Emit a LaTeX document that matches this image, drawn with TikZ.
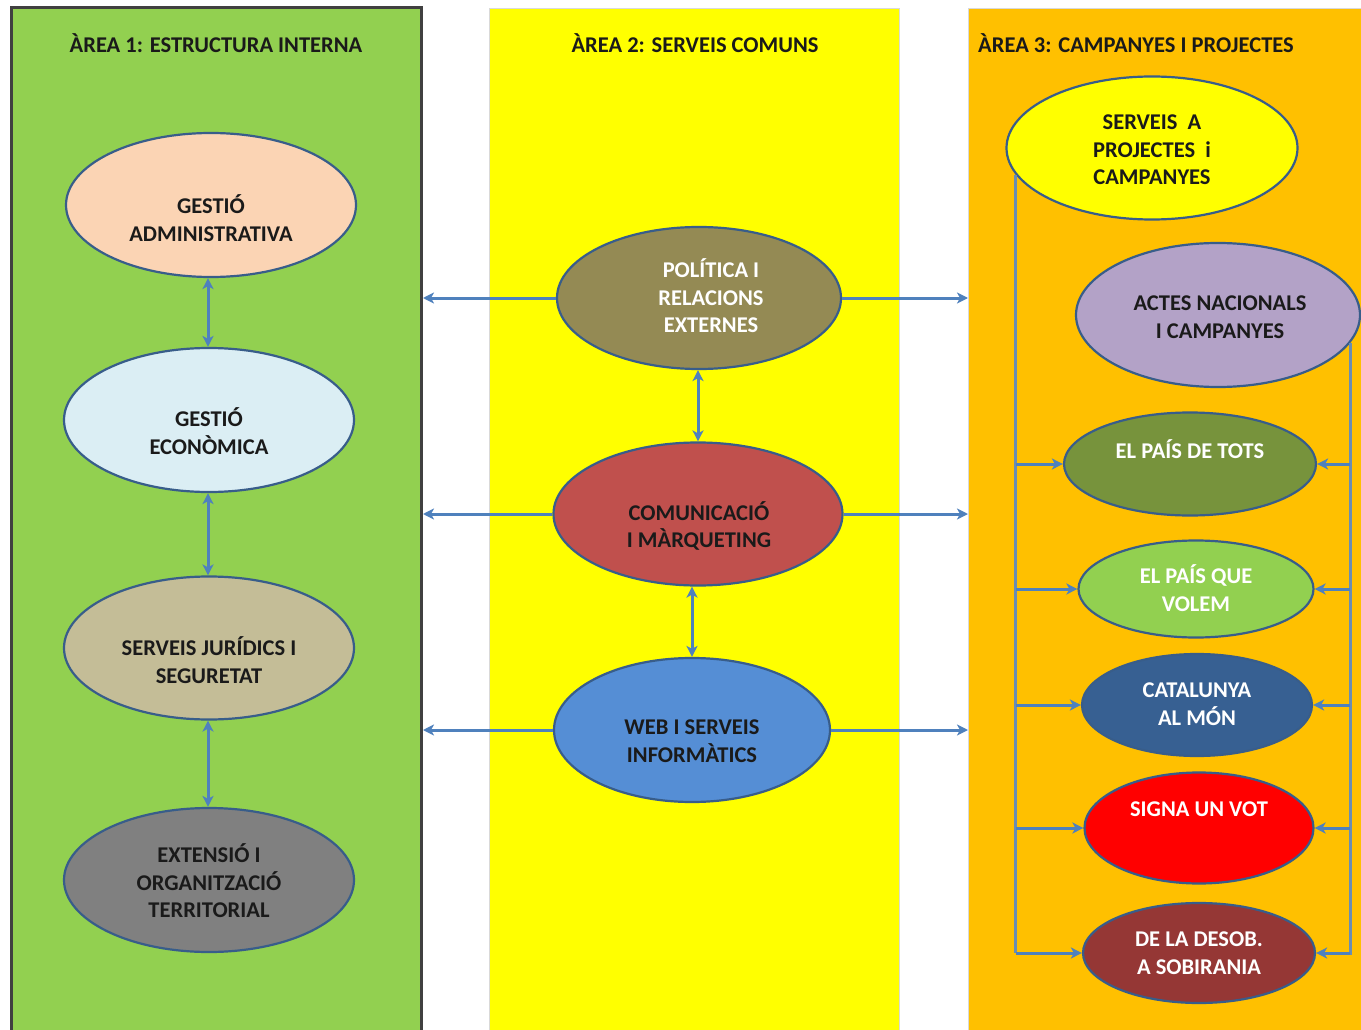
\documentclass[tikz,border=0pt]{standalone}
\usepackage{fontspec}
\setmainfont{Carlito}
\usetikzlibrary{shapes.geometric,arrows.meta,calc}
\definecolor{pgreen}{HTML}{92D050}
\definecolor{pyellow}{HTML}{FFFF00}
\definecolor{porange}{HTML}{FFC000}
\definecolor{ellB}{HTML}{385D8A}
\definecolor{arrC}{HTML}{4F81BD}
\definecolor{lineC}{HTML}{6A8DB3}
\definecolor{txtD}{HTML}{1A1A1A}
\definecolor{cPeach}{HTML}{FBD4B4}
\definecolor{cLblue}{HTML}{DBEEF4}
\definecolor{cTan}{HTML}{C4BD97}
\definecolor{cGray}{HTML}{808080}
\definecolor{cOlive}{HTML}{948A54}
\definecolor{cRed}{HTML}{C0504D}
\definecolor{cBlue}{HTML}{558ED5}
\definecolor{cLilac}{HTML}{B3A2C7}
\definecolor{cDgreen}{HTML}{77933C}
\definecolor{cNavy}{HTML}{376092}
\definecolor{cBrick}{HTML}{953735}
\begin{document}
\begin{tikzpicture}[x=1pt,y=-1pt,
  panel/.style={rectangle, anchor=north west, inner sep=0pt, minimum height=1040pt},
  ell/.style={ellipse, draw=ellB, line width=2.2pt, inner sep=0pt},
  title/.style={font=\bfseries\fontsize{22.5}{26}\selectfont, text=txtD, inner sep=0pt},
  txt/.style={align=center, font=\bfseries\fontsize{22.5}{27.5}\selectfont, text=txtD, inner sep=0pt},
  txtw/.style={txt, text=white},
  arr/.style={draw=arrC, line width=3pt, -{Stealth[length=11pt,width=11pt,inset=3pt]}},
  darr/.style={draw=arrC, line width=3pt, {Stealth[length=11pt,width=11pt,inset=3pt]}-{Stealth[length=11pt,width=11pt,inset=3pt]}},
  conn/.style={draw=lineC, line width=3pt}
]
\useasboundingbox (0,0) rectangle (1361,1030);
\fill[white] (0,0) rectangle (1361,1030);
% panels
\node[panel, fill=pgreen, draw=black!75, line width=3pt, minimum width=410pt] (A1) at (10,6) {};
\node[panel, fill=pyellow, draw=black!15, line width=1pt, minimum width=410pt] (A2) at (489,8) {};
\node[panel, fill=porange, draw=black!15, line width=1pt, minimum width=400pt] (A3) at (968,8) {};
% titles
\node[title] (t1) at (216,43) {ÀREA 1: ESTRUCTURA INTERNA};
\node[title] (t2) at (695,43) {ÀREA 2: SERVEIS COMUNS};
\node[title] (t3) at (1136,43) {ÀREA 3: CAMPANYES I PROJECTES};
% left ellipses
\node[ell, fill=cPeach, minimum width=290pt, minimum height=144pt] (l1) at (211,205) {};
\node[ell, fill=cLblue, minimum width=290pt, minimum height=144pt] (l2) at (209,420) {};
\node[ell, fill=cTan, minimum width=290pt, minimum height=143pt] (l3) at (209,648) {};
\node[ell, fill=cGray, minimum width=290pt, minimum height=144pt] (l4) at (209,880) {};
\node[txt] (l1t) at (211,218) {GESTIÓ\\ADMINISTRATIVA};
\node[txt] (l2t) at (209,431) {GESTIÓ\\ECONÒMICA};
\node[txt] (l3t) at (209,660) {SERVEIS JURÍDICS I\\SEGURETAT};
\node[txt] (l4t) at (209,881) {EXTENSIÓ I\\ORGANITZACIÓ\\TERRITORIAL};
% middle ellipses
\node[ell, fill=cOlive, minimum width=284pt, minimum height=142pt] (m1) at (699,298) {};
\node[ell, fill=cRed, minimum width=289pt, minimum height=143pt] (m2) at (698,514) {};
\node[ell, fill=cBlue, minimum width=276pt, minimum height=144pt] (m3) at (692,730) {};
\node[txtw] (m1t) at (711,296) {POLÍTICA I\\RELACIONS\\EXTERNES};
\node[txt] (m2t) at (699,526) {COMUNICACIÓ\\I MÀRQUETING};
\node[txt] (m3t) at (692,741) {WEB I SERVEIS\\INFORMÀTICS};
% right ellipses
\node[ell, fill=pyellow, minimum width=291pt, minimum height=143pt] (r1) at (1152,148) {};
\node[ell, fill=cLilac, minimum width=284pt, minimum height=144pt] (r2) at (1218,315) {};
\node[ell, fill=cDgreen, minimum width=252pt, minimum height=103pt] (r3) at (1190,464) {};
\node[ell, fill=pgreen, minimum width=235pt, minimum height=97pt] (r4) at (1196,589) {};
\node[ell, fill=cNavy, minimum width=230pt, minimum height=102pt] (r5) at (1197,705) {};
\node[ell, fill=red, minimum width=229pt, minimum height=111pt] (r6) at (1199,828) {};
\node[ell, fill=cBrick, minimum width=232pt, minimum height=100pt] (r7) at (1199,953) {};
\node[txt] (r1t) at (1152,150) {SERVEIS\ \ A\\PROJECTES\ \ i\\CAMPANYES};
\node[txt] (r2t) at (1220,317) {ACTES NACIONALS\\I CAMPANYES};
\node[txtw] (r3t) at (1190,449) {EL PAÍS DE TOTS};
\node[txtw] (r4t) at (1196,588) {EL PAÍS QUE\\VOLEM};
\node[txtw] (r5t) at (1197,704) {CATALUNYA\\AL MÓN};
\node[txtw] (r6t) at (1199,809) {SIGNA UN VOT};
\node[txtw] (r7t) at (1199,953) {DE LA DESOB.\\A SOBIRANIA};
% left vertical arrows
\draw[darr] (l1.south -| 208,0) -- (l2.north -| 208,0);
\draw[darr] (l2.south -| 208,0) -- (l3.north -| 208,0);
\draw[darr] (l3.south -| 208,0) -- (l4.north -| 208,0);
% middle vertical arrows
\draw[darr] (m1.south -| m2.north) -- (m2.north);
\draw[darr] (m2.south -| m3.north) -- (m3.north);
% horizontal arrows
\foreach \m in {m1,m2,m3}{
  \draw[arr] (\m.west) -- (\m.west -| A1.east);
  \draw[arr] (\m.east) -- (\m.east -| A3.west);
}
% right bus lines
\draw[conn] (r1.191) -- (r1.191 |- r7.west);
\draw[conn] (r2.348.6) -- ($(r2.348.6 |- r7.east)+(0,2)$);
\foreach \r in {r3,r4,r5,r6,r7}{
  \draw[arr] (r1.191 |- \r.west) -- (\r.west);
  \draw[arr] (r2.348.6 |- \r.east) -- (\r.east);
}
\end{tikzpicture}
\end{document}
